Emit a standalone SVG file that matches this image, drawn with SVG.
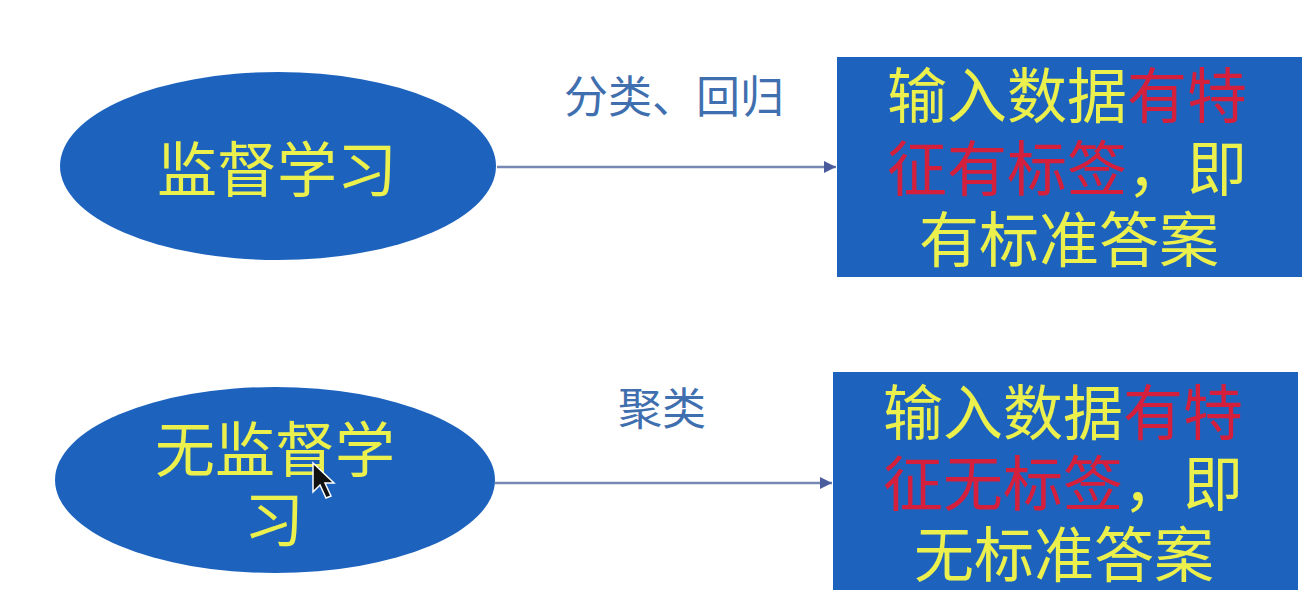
<svg xmlns="http://www.w3.org/2000/svg" width="1308" height="610" viewBox="0 0 1308 610">
  <style>
    .shape { fill: #1d63be; }
    .t { font-family: "Noto Sans CJK SC", "Noto Sans", sans-serif; font-size: 60px; text-anchor: middle; fill: #ecf04c; }
    .r { fill: #d4203c; }
    .lbl { font-family: "Noto Sans CJK SC", "Noto Sans", sans-serif; font-size: 44px; text-anchor: middle; fill: #3f6fae; }
    .conn { stroke: #7888b4; stroke-width: 2.5; fill: none; marker-end: url(#ah); }
  </style>
  <defs>
    <marker id="ah" viewBox="0 0 10 10" refX="10" refY="5" markerWidth="5" markerHeight="5" orient="auto" markerUnits="strokeWidth">
      <path d="M0,0 L10,5 L0,10 z" fill="#4a5c9c"/>
    </marker>
  </defs>
  <rect width="1308" height="610" fill="#ffffff"/>

  <g id="connectors">
    <line class="conn" x1="497" y1="167" x2="836" y2="167"/>
    <line class="conn" x1="495" y1="483" x2="832" y2="483"/>
    <text class="lbl" x="674" y="113">分类、回归</text>
    <text class="lbl" x="662" y="425">聚类</text>
  </g>

  <g id="node-supervised">
    <ellipse class="shape" cx="278" cy="166" rx="218" ry="94"/>
    <text class="t" x="277" y="192">监督学习</text>
  </g>

  <g id="node-unsupervised">
    <ellipse class="shape" cx="275" cy="480" rx="220" ry="93"/>
    <text class="t"><tspan x="275" y="472">无监督学</tspan><tspan x="274" y="542">习</tspan></text>
  </g>

  <g id="box-supervised">
    <rect class="shape" x="837" y="57" width="465" height="220"/>
    <text class="t"><tspan x="1067" y="118">输入数据<tspan class="r">有特</tspan></tspan><tspan x="1067" y="191"><tspan class="r">征有标签</tspan>，即</tspan><tspan x="1069" y="262">有标准答案</tspan></text>
  </g>

  <g id="box-unsupervised">
    <rect class="shape" x="833" y="372" width="465" height="218"/>
    <text class="t"><tspan x="1063" y="435">输入数据<tspan class="r">有特</tspan></tspan><tspan x="1063" y="506"><tspan class="r">征无标签</tspan>，即</tspan><tspan x="1064" y="577">无标准答案</tspan></text>
  </g>

  <g id="cursor">
    <path d="M313,463 L313,492 L320,485 L326,498 L331,496 L325,483 L334,483 Z" fill="#111111" stroke="#ffffff" stroke-width="1.5"/>
  </g>
</svg>
